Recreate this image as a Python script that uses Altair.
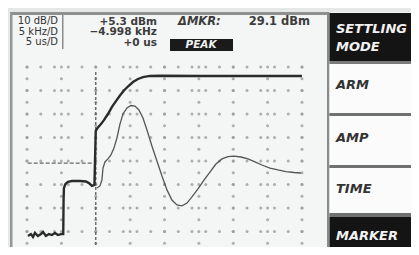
import altair as alt
import pandas as pd

# ---------------- data ----------------
# thick trace (settling envelope): time in us, level in dBm
thick_t = [-9.86, -9.43, -9.13, -8.84, -8.41, -7.97, -7.68, -7.24, -6.81, -6.37,
           -5.93, -5.50, -5.06, -4.73, -4.68, -4.63, -4.41, -4.04, -3.46, -2.30,
           -1.43, -0.99, -0.55, -0.19, -0.07, 0.0, 0.32, 0.76, 1.19, 1.77,
           2.36, 2.94, 3.52, 4.10, 4.68, 5.41, 6.14, 6.87, 7.88, 9.34,
           15.16, 20.97, 25.34, 29.99]
thick_db = [-61.9, -61.1, -62.3, -60.6, -61.9, -61.1, -60.2, -61.9, -61.1, -61.5,
            -60.6, -61.5, -61.1, -61.1, -46.6, -41.5, -39.8, -38.9, -38.5, -38.5,
            -38.7, -39.4, -40.6, -40.2, -25.3, -17.2, -15.7, -14.3, -12.6, -10.0,
            -7.0, -4.5, -2.1, 0.0, 1.7, 3.6, 4.9, 5.7, 6.2, 6.3,
            6.2, 6.2, 6.2, 6.2]

# thin trace (ringing)
thin_t = [0.17, 0.61, 0.90, 1.05, 1.34, 1.77, 2.21, 2.65, 3.08, 3.52,
          3.96, 4.54, 5.12, 5.70, 6.28, 6.87, 7.45, 8.17, 8.90, 9.63,
          10.36, 11.08, 11.81, 12.54, 13.27, 13.99, 14.87, 15.74, 16.61, 17.48,
          18.36, 19.23, 20.10, 21.12, 22.14, 23.16, 24.17, 25.34, 26.50, 27.67,
          28.83, 29.85]
thin_db = [-41.5, -40.6, -38.1, -33.0, -30.4, -29.1, -27.4, -24.5, -20.2, -14.3,
           -10.0, -7.4, -6.4, -6.6, -8.3, -11.7, -16.8, -23.6, -30.0, -36.4,
           -42.3, -46.6, -48.7, -49.1, -47.9, -45.3, -41.9, -38.1, -34.7, -31.3,
           -29.1, -28.1, -27.9, -28.3, -29.1, -30.4, -31.7, -33.0, -33.8, -34.5,
           -34.9, -35.1]

# graticule (5 us/div, 10 dB/div)
major_t = [-10, -5, 0, 5, 10, 15, 20, 25, 30]
major_db = [10, 0, -10, -20, -30, -40, -50, -60, -70]
minor_t_step = 2
minor_db_step = 5

# reference marker line and trigger line
marker_db = [-30.9]
marker_t_from = [-9.9]
marker_t_to = [-0.5]
trigger_t = [0]
trigger_db_top = [7.9]

left_info = ["10 dB/D", "5 kHz/D", "5 us/D"]
mid_info = ["+5.3 dBm", "\u22124.998 kHz", "+0 us"]
mkr_label = "\u0394MKR:"
mkr_value = "29.1 dBm"
peak_label = "PEAK"
softkeys = ["SETTLING", "MODE", "ARM", "AMP", "TIME", "MARKER"]

# ---------------- layout ----------------
W, H = 403, 239
OX, OY = 8, 8          # page margin: reference pixel = chart pixel + 8
T_DOMAIN = [-12.764, 45.855]
DB_DOMAIN = [-66.596, 35.106]
FONT = "DejaVu Sans"

ONE = alt.InlineData(values=[{"k": 0}])

xs = alt.Scale(domain=T_DOMAIN, nice=False, zero=False)
ys = alt.Scale(domain=DB_DOMAIN, nice=False, zero=False)


def box(x0, x1, y0, y1, color):
    return alt.Chart(ONE).mark_rect(color=color).encode(
        x=alt.value(x0 - OX), x2=alt.value(x1 - OX),
        y=alt.value(y0 - OY), y2=alt.value(y1 - OY))


def label(txt, x, y, size=12, align="left", color="#333333",
          style="normal", weight="normal"):
    return alt.Chart(ONE).mark_text(
        text=txt, align=align, baseline="middle", fontSize=size, font=FONT,
        fontStyle=style, fontWeight=weight, color=color
    ).encode(x=alt.value(x - OX), y=alt.value(y - OY))


# grid dots built from the major tick lists
dots = []
for db in major_db:
    t = major_t[0]
    while t <= major_t[-1] + 1e-9:
        dots.append({"t": t, "db": db})
        t += minor_t_step
for t in major_t:
    db = major_db[0]
    while db >= major_db[-1] - 1e-9:
        dots.append({"t": t, "db": db})
        db -= minor_db_step
df_dots = pd.DataFrame(dots)

df_thick = pd.DataFrame({"t": thick_t, "db": thick_db, "i": range(len(thick_t))})
df_thin = pd.DataFrame({"t": thin_t, "db": thin_db, "i": range(len(thin_t))})
df_marker = pd.DataFrame({"t": marker_t_from, "t2": marker_t_to, "db": marker_db})
df_trig = pd.DataFrame({"t": trigger_t, "db": trigger_db_top, "db2": [DB_DOMAIN[0]]})

grid = alt.Chart(df_dots).mark_circle(size=9, color="#9a9d9d", opacity=0.8).encode(
    x=alt.X("t:Q", scale=xs, axis=None), y=alt.Y("db:Q", scale=ys, axis=None))

marker = alt.Chart(df_marker).mark_rule(color="#6a6a6a", strokeWidth=1.2,
                                        strokeDash=[4, 2]).encode(
    x=alt.X("t:Q", scale=xs, axis=None), x2="t2:Q",
    y=alt.Y("db:Q", scale=ys, axis=None))

trig = alt.Chart(df_trig).mark_rule(color="#666666", strokeWidth=1.4,
                                    strokeDash=[3, 2]).encode(
    x=alt.X("t:Q", scale=xs, axis=None),
    y=alt.Y("db:Q", scale=ys, axis=None), y2="db2:Q")

thin = alt.Chart(df_thin).mark_line(color="#555555", strokeWidth=1.3).encode(
    x=alt.X("t:Q", scale=xs, axis=None), y=alt.Y("db:Q", scale=ys, axis=None),
    order="i:Q")

thick = alt.Chart(df_thick).mark_line(color="#2b2b2b", strokeWidth=2.4).encode(
    x=alt.X("t:Q", scale=xs, axis=None), y=alt.Y("db:Q", scale=ys, axis=None),
    order="i:Q")

layers = [
    box(8, 419, 8, 12, "#e6e7e7"),
    box(8, 10, 8, 255, "#e6e7e7"),
    grid, marker, trig, thin, thick,
    box(10, 328, 12, 15, "#8e9090"),
    box(10, 12.5, 12, 255, "#959797"),
    box(62, 63.5, 15, 49, "#8a8c8c"),
    box(327, 329.5, 12, 255, "#8a8c8c"),
    box(329.5, 419, 13, 61, "#141414"),
    box(329.5, 419, 61, 64, "#7a7a7a"),
    box(329.5, 419, 64, 113, "#fbfbfb"),
    box(329.5, 419, 113, 116, "#6f7070"),
    box(329.5, 419, 116, 165, "#fbfbfb"),
    box(329.5, 419, 165, 168, "#6f7070"),
    box(329.5, 419, 168, 213, "#fbfbfb"),
    box(329.5, 419, 213, 217, "#6f7070"),
    box(329.5, 419, 217, 255, "#141414"),
    box(170, 233, 39, 51, "#1a1a1a"),
    label(left_info[0], 58, 21, size=10, align="right"),
    label(left_info[1], 58, 31.5, size=10, align="right"),
    label(left_info[2], 58, 42, size=10, align="right"),
    label(mid_info[0], 157, 21.5, size=10.5, align="right", weight="bold", color="#3c3c3c"),
    label(mid_info[1], 157, 32, size=10.5, align="right", weight="bold", color="#3c3c3c"),
    label(mid_info[2], 157, 42.5, size=10.5, align="right", weight="bold", color="#3c3c3c"),
    label(mkr_label, 178, 22, size=11.5, style="italic", weight="bold", color="#3c3c3c"),
    label(mkr_value, 310, 22, size=11.5, align="right", weight="bold", color="#3c3c3c"),
    label(peak_label, 201, 45, size=10.5, align="center", color="#f0f0f0",
          style="italic", weight="bold"),
    label(softkeys[0], 336, 29, size=13, color="#f2f2f2", style="italic", weight="bold"),
    label(softkeys[1], 336, 47, size=13, color="#f2f2f2", style="italic", weight="bold"),
    label(softkeys[2], 336, 85, size=13, style="italic", weight="bold"),
    label(softkeys[3], 336, 138, size=13, style="italic", weight="bold"),
    label(softkeys[4], 336, 189, size=13, style="italic", weight="bold"),
    label(softkeys[5], 336, 236, size=13, color="#f2f2f2", style="italic", weight="bold"),
]

chart = alt.layer(*layers).properties(
    width=W, height=H, padding=0, background="#f4f5f5",
    autosize=alt.AutoSizeParams(type="none"),
).configure_view(stroke=None)

chart.save("out.html", embed_options={"renderer": "svg", "actions": False})
